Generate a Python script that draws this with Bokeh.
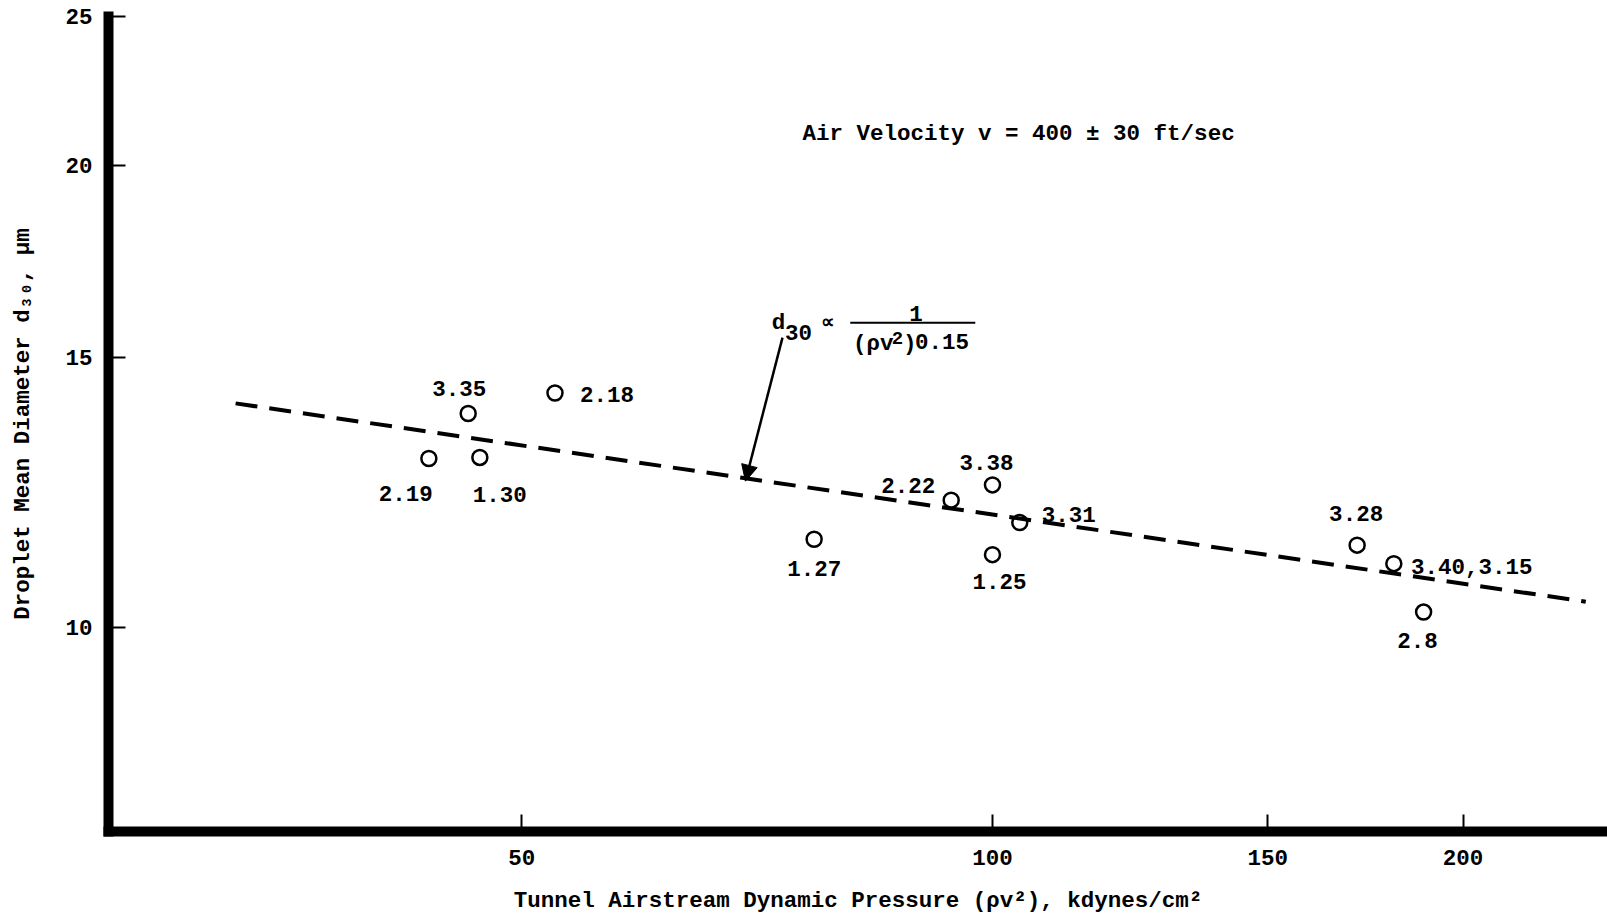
from bokeh.plotting import figure
from bokeh.models import (FixedTicker, NumeralTickFormatter, Arrow, NormalHead,
                          ColumnDataSource, Range1d)
from bokeh.core.properties import value
from bokeh.embed import file_html
from bokeh.resources import INLINE

# Measured droplet size vs. tunnel dynamic pressure (log-log)
pressure = [43.6, 46.2, 47.0, 52.5, 76.9, 94.1, 100.0, 100.0, 104.1, 171.1, 180.6, 188.7]
diameter = [12.89, 13.79, 12.91, 14.22, 11.42, 12.11, 12.39, 11.16, 11.71, 11.32, 11.01, 10.24]
run_labels = ["2.19", "3.35", "1.30", "2.18", "1.27", "2.22", "3.38", "1.25",
              "3.31", "3.28", "3.40,3.15", "2.8"]

# Correlation line d30 ~ (rho v^2)^-0.15, drawn between its two end points
fit_pressure = [32.8, 239.6]
fit_diameter = [14.0, 10.4]

x_ticks = [50, 100, 150, 200]
y_ticks = [10, 15, 20, 25]

FONT = "Liberation Mono"
FS = "22.5px"

# label placement around each point, in pixels
label_dx = [-23, -9, 20, 52, 0, -43, -6, 7, 49, -1, 78, -6]
label_dy = [35, -25, 37, 2, 29, -15, -22, 27, -8, -32, 3, 28]

p = figure(width=1607, height=916,
           x_axis_type="log", y_axis_type="log",
           x_range=Range1d(27.2, 247.4), y_range=Range1d(7.37, 25.0),
           min_border_left=108, min_border_right=0,
           min_border_top=16, min_border_bottom=85,
           output_backend="svg", toolbar_location=None)

p.outline_line_color = None
p.xgrid.visible = False
p.ygrid.visible = False
p.background_fill_color = "white"
p.border_fill_color = "white"

for ax in (p.xaxis[0], p.yaxis[0]):
    ax.axis_line_width = 10
    ax.axis_line_color = "black"
    ax.axis_line_cap = "square"
    ax.major_tick_in = 17
    ax.major_tick_out = 0
    ax.major_tick_line_width = 2
    ax.major_tick_line_color = "black"
    ax.minor_tick_line_color = None
    ax.major_label_text_font = FONT
    ax.major_label_text_font_style = "bold"
    ax.major_label_text_font_size = FS
    ax.major_label_text_color = "black"
    ax.axis_label_text_font = FONT
    ax.axis_label_text_font_style = "bold"
    ax.axis_label_text_font_size = FS
    ax.axis_label_text_color = "black"
    ax.formatter = NumeralTickFormatter(format="0")

p.xaxis.ticker = FixedTicker(ticks=x_ticks)
p.yaxis.ticker = FixedTicker(ticks=y_ticks)
p.xaxis.axis_label = "Tunnel Airstream Dynamic Pressure (\u03c1v\u00b2), kdynes/cm\u00b2"
p.yaxis.axis_label = "Droplet Mean Diameter d\u2083\u2080, \u03bcm"
p.xaxis.major_label_standoff = 18
p.xaxis.axis_label_standoff = 20
p.yaxis.major_label_standoff = 16
p.yaxis.axis_label_standoff = 26

# correlation line
p.line(fit_pressure, fit_diameter, line_color="black", line_width=4,
       line_dash="22 12")

# data points and their run labels
src = ColumnDataSource(dict(x=pressure, y=diameter, label=run_labels,
                            dx=label_dx, dy=label_dy))
p.scatter("x", "y", source=src, marker="circle", size=15, line_width=2.5,
          line_color="black", fill_color=None)
p.text("x", "y", text="label", source=src, x_offset="dx", y_offset="dy",
       text_font=value(FONT), text_font_style="bold", text_font_size=FS,
       text_align="center", text_baseline="middle", text_color="black")


def put(txt, x, y, size=FS, align="left", baseline="alphabetic"):
    p.text(x=[x], y=[y], text=[txt], text_font=value(FONT),
           text_font_style="bold", text_font_size=size, text_align=align,
           text_baseline=baseline, text_color="black")


put("Air Velocity v = 400 \u00b1 30 ft/sec", 75.6, 20.96)

# formula annotation
put("d", 72.25, 15.80)
put("30", 73.68, 15.58)
put("\u221d", 78.5, 15.80, size="19px", align="center", baseline="middle")
p.line([81.1, 97.5], [15.80, 15.80], line_color="black", line_width=2)
put("1", 89.35, 16.01, align="center")
put("(\u03c1v", 81.44, 15.30)
put("2", 86.2, 15.44, size="19px")
put(")", 87.66, 15.30)
put("0.15", 89.22, 15.36)

p.add_layout(Arrow(end=NormalHead(size=16, fill_color="black",
                                  line_color="black"),
                   x_start=73.4, y_start=15.45, x_end=69.5, y_end=12.46,
                   line_width=2.5, line_color="black"))

open("out.html", "w").write(file_html(p, INLINE))
